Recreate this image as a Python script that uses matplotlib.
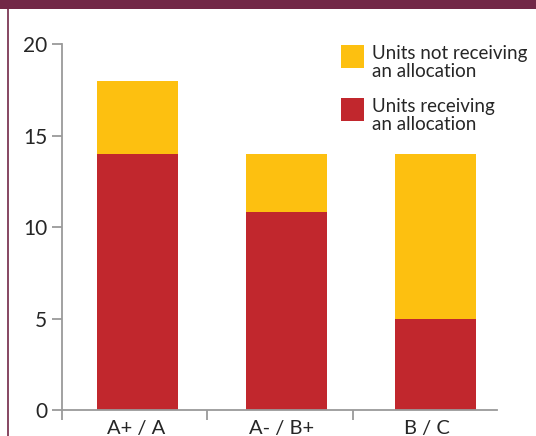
import matplotlib
matplotlib.use("Agg")
import matplotlib.pyplot as plt
from matplotlib.patches import Rectangle
from matplotlib.lines import Line2D

plt.rcParams["font.family"] = ["Lato", "DejaVu Sans"]

# Units by grade band, split by whether they received an allocation
categories = ["A+ / A", "A- / B+", "B / C"]
receiving = [14, 10.8, 5]
not_receiving = [4, 3.2, 9]
series_labels = ["Units not receiving\nan allocation", "Units receiving\nan allocation"]
y_ticks = [0, 5, 10, 15, 20]

RED = "#c1272d"
YELLOW = "#fdc010"
MAROON = "#722847"
AXIS_GREY = "#9a9a9a"
TEXT = "#262626"

W, H = 536, 436
fig = plt.figure(figsize=(W / 100, H / 100), dpi=100)

# header band and left rule
fig.patches.append(Rectangle((0, 1 - 9 / H), 1, 9 / H, transform=fig.transFigure,
                             facecolor=MAROON, edgecolor="none"))
fig.lines.append(Line2D([8.3 / W, 8.3 / W], [0, 1 - 9 / H], transform=fig.transFigure,
                        color=MAROON, linewidth=1.2))

ax = fig.add_axes([61.7 / W, 26 / H, 435.3 / W, 366 / H])

x = list(range(len(categories)))
bar_w = 0.544
ax.bar(x, receiving, width=bar_w, color=RED, zorder=2)
ax.bar(x, not_receiving, width=bar_w, bottom=receiving, color=YELLOW, zorder=2)

ax.set_xlim(-0.509, 2.413)
ax.set_ylim(0, 20)

for side in ("top", "right"):
    ax.spines[side].set_visible(False)
for side in ("left", "bottom"):
    ax.spines[side].set_color(AXIS_GREY)
    ax.spines[side].set_linewidth(1.3)

ax.set_yticks(y_ticks)
ax.set_yticklabels([str(v) for v in y_ticks])
ax.tick_params(axis="y", length=7, width=1.3, color=AXIS_GREY, pad=3.5,
               labelsize=15, labelcolor=TEXT)

# category separators as major ticks, names as minor ticks
ax.set_xticks([-0.509, 0.468, 1.444])
ax.set_xticklabels([])
ax.tick_params(axis="x", which="major", length=7.5, width=1.3, color=AXIS_GREY)
ax.set_xticks([-0.01, 0.97, 1.94], minor=True)
ax.set_xticklabels(categories, minor=True)
ax.tick_params(axis="x", which="minor", length=0, pad=7.5, labelsize=14.5, labelcolor=TEXT)

# legend: squares aligned to the first line of each label
legend_colors = [YELLOW, RED]
for i, (lab, col) in enumerate(zip(series_labels, legend_colors)):
    top = 45 + i * 53
    fig.patches.append(Rectangle((341 / W, 1 - (top + 23) / H), 23 / W, 23 / H,
                                 transform=fig.transFigure, facecolor=col, edgecolor="none"))
    fig.text(372 / W, 1 - top / H, lab, ha="left", va="top", fontsize=13.5,
             color=TEXT, linespacing=1.08)

fig.savefig("out.png", dpi=100)
